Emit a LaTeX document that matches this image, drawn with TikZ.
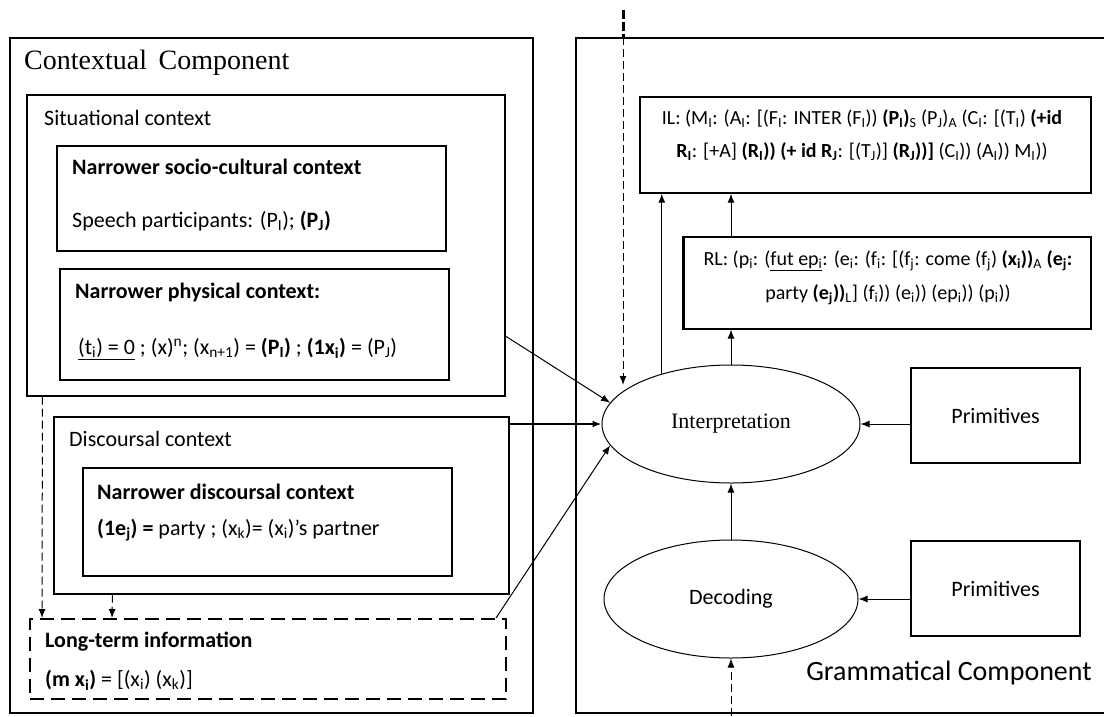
\documentclass[tikz,border=0pt]{standalone}
\usepackage{fontspec}
\setmainfont{Carlito}
\newfontfamily\timesfont{Liberation Serif}
\usetikzlibrary{shapes.geometric,arrows.meta,calc}

\begin{document}
\begin{tikzpicture}[x=1pt,y=-1pt,
		box/.style={draw,line width=1.1pt,inner sep=0pt},
		oval/.style={draw,ellipse,line width=1pt,inner sep=0pt},
		lbl/.style={anchor=west,inner sep=0pt,font=\fontsize{22}{26}\selectfont},
		head/.style={lbl,font=\bfseries\fontsize{22}{26}\selectfont},
		arr/.style={-{Latex[length=9pt,width=7pt]},line width=1pt},
		dasharr/.style={arr,dash pattern=on 8pt off 4pt}]
			\clip (0,0) rectangle (1104,716);
			% the two components
			\node[box,line width=1.4pt,minimum width=523,minimum height=675] (ctx) at (271.5,375.5) {};
			\node[box,line width=1.4pt,minimum width=532,minimum height=675] (gram) at (842,375.5) {};
			\node[anchor=west,inner sep=0pt,font=\timesfont\fontsize{28}{32}\selectfont] (ctxtitle) at (24,63) {Contextual\, Component};
			\node[anchor=east,inner sep=0pt,font=\fontsize{28}{32}\selectfont] (gramtitle) at (1092,673) {Grammatical Component};

			% contextual side
			\node[box,minimum width=478,minimum height=301] (sit) at (266,245.5) {};
			\node[lbl] (sitlbl) at (44,118) {Situational context};
			\node[box,minimum width=389,minimum height=105] (socio) at (251.5,198.5) {};
			\node[head] (sociolbl) at (72,167) {Narrower socio-cultural context};
			\node[lbl] (sociotxt) at (72,221) {Speech participants: (P\textsubscript{I}); \textbf{(P\textsubscript{J})}};
			\node[box,minimum width=389,minimum height=111] (phys) at (254.5,324.5) {};
			\node[head] (physlbl) at (75,293) {Narrower physical context:};
			\node[lbl] (phystxt) at (78,349) {\underline{(t\textsubscript{i}) = 0} ; (x)\textsuperscript{n}; (x\textsubscript{n+1}) = \textbf{(P\textsubscript{I})} ; \textbf{(1x\textsubscript{i})} = (P\textsubscript{J})};

			\node[box,minimum width=455,minimum height=177] (disc) at (281.5,505.5) {};
			\node[lbl] (disclbl) at (69,439) {Discoursal context};
			\node[box,minimum width=369,minimum height=108] (ndisc) at (267.5,522) {};
			\node[head] (ndisclbl) at (97,492) {Narrower discoursal context};
			\node[lbl] (ndisctxt) at (97,530) {\textbf{(1e\textsubscript{j}) =} party ; (x\textsubscript{k})= (x\textsubscript{i})’s partner};

			\node[box,line width=2pt,dash pattern=on 14pt off 7pt,minimum width=476,minimum height=80] (lt) at (268,659) {};
			\node[head] (ltlbl) at (45,642) {Long-term information};
			\node[lbl] (lttxt) at (45,680) {\textbf{(m x\textsubscript{i})} = [(x\textsubscript{i}) (x\textsubscript{k})]};

			% grammatical side
			\node[box,line width=1.4pt,minimum width=451,minimum height=96] (il) at (865.5,145) {};
			\node[align=center,inner sep=0pt,font=\fontsize{20}{33}\selectfont] (iltxt) at (862,135)
				{IL: (M\textsubscript{I}: (A\textsubscript{I}: [(F\textsubscript{I}: INTER (F\textsubscript{I})) \textbf{(P\textsubscript{I})}\textsubscript{S} (P\textsubscript{J})\textsubscript{A} (C\textsubscript{I}: [(T\textsubscript{I}) \textbf{(+id}\\
				\textbf{R\textsubscript{I}}: [+A] \textbf{(R\textsubscript{I})) (+ id R\textsubscript{J}}: [(T\textsubscript{J})] \textbf{(R\textsubscript{J}))]} (C\textsubscript{I})) (A\textsubscript{I})) M\textsubscript{I}))};
			\node[box,minimum width=407,minimum height=92] (rl) at (887.5,283) {};
			\draw[line width=2.2pt] (rl.north west) -- (rl.south west);
			\node[align=center,inner sep=0pt,font=\fontsize{20}{34}\selectfont] (rltxt) at (888,278)
				{RL: (p\textsubscript{i}: (\underline{fut ep\textsubscript{i}}: (e\textsubscript{i}: (f\textsubscript{i}: [(f\textsubscript{j}: come (f\textsubscript{j}) \textbf{(x\textsubscript{i}))}\textsubscript{A} \textbf{(e\textsubscript{j}:}\\
				party \textbf{(e\textsubscript{j}))}\textsubscript{L}] (f\textsubscript{i})) (e\textsubscript{i})) (ep\textsubscript{i})) (p\textsubscript{i}))};

			\node[oval,minimum width=258,minimum height=118,font=\timesfont\fontsize{22}{26}\selectfont] (interp) at (731,424) {Interpretation};
			\node[oval,minimum width=254,minimum height=118,font=\fontsize{22}{26}\selectfont] (dec) at (731,599) {Decoding};
			\node[box,minimum width=169,minimum height=95,font=\fontsize{22}{26}\selectfont] (primA) at (995.5,415.5) {Primitives};
			\node[box,minimum width=169,minimum height=95,font=\fontsize{22}{26}\selectfont] (primB) at (995.5,588.5) {Primitives};

			\coordinate (topin) at (623,10);
			\coordinate (topend) at (623,385);
			\coordinate (botin) at (731,716);

			% connectors
			\draw[line width=3pt,dash pattern=on 9pt off 3pt] (topin) -- (topin |- gram.north);
			\draw[dasharr] (topin |- gram.north) -- (topend);
			\draw[arr] ($(sit.north east)!0.8!(sit.south east)$) -- (interp.170);
			\draw[arr,line width=2.2pt] (interp.west -| disc.east) -- (interp.west);
			\draw[arr] ($(lt.north east)+(-11,0)$) -- (interp.190);
			\draw[dasharr] ($(sit.south west)+(16,0)$) -- ($(lt.north west)+(13,0)$);
			\draw[dasharr] ($(disc.south west)+(59,0)$) -- ($(lt.north west)+(83,0)$);

			\draw[arr] (interp.144) -- (interp.144 |- il.south);
			\draw[arr] (interp.north) -- (rl.south -| interp.north);
			\draw[arr] (rl.north -| interp.north) -- (il.south -| interp.north);
			\draw[arr] (dec.north) -- (interp.south);
			\draw[dasharr] (botin) -- (dec.south);
			\draw[arr] (primA.west |- interp.east) -- (interp.east);
			\draw[arr] (primB.west |- dec.east) -- (dec.east);
		\end{tikzpicture}
\end{document}
